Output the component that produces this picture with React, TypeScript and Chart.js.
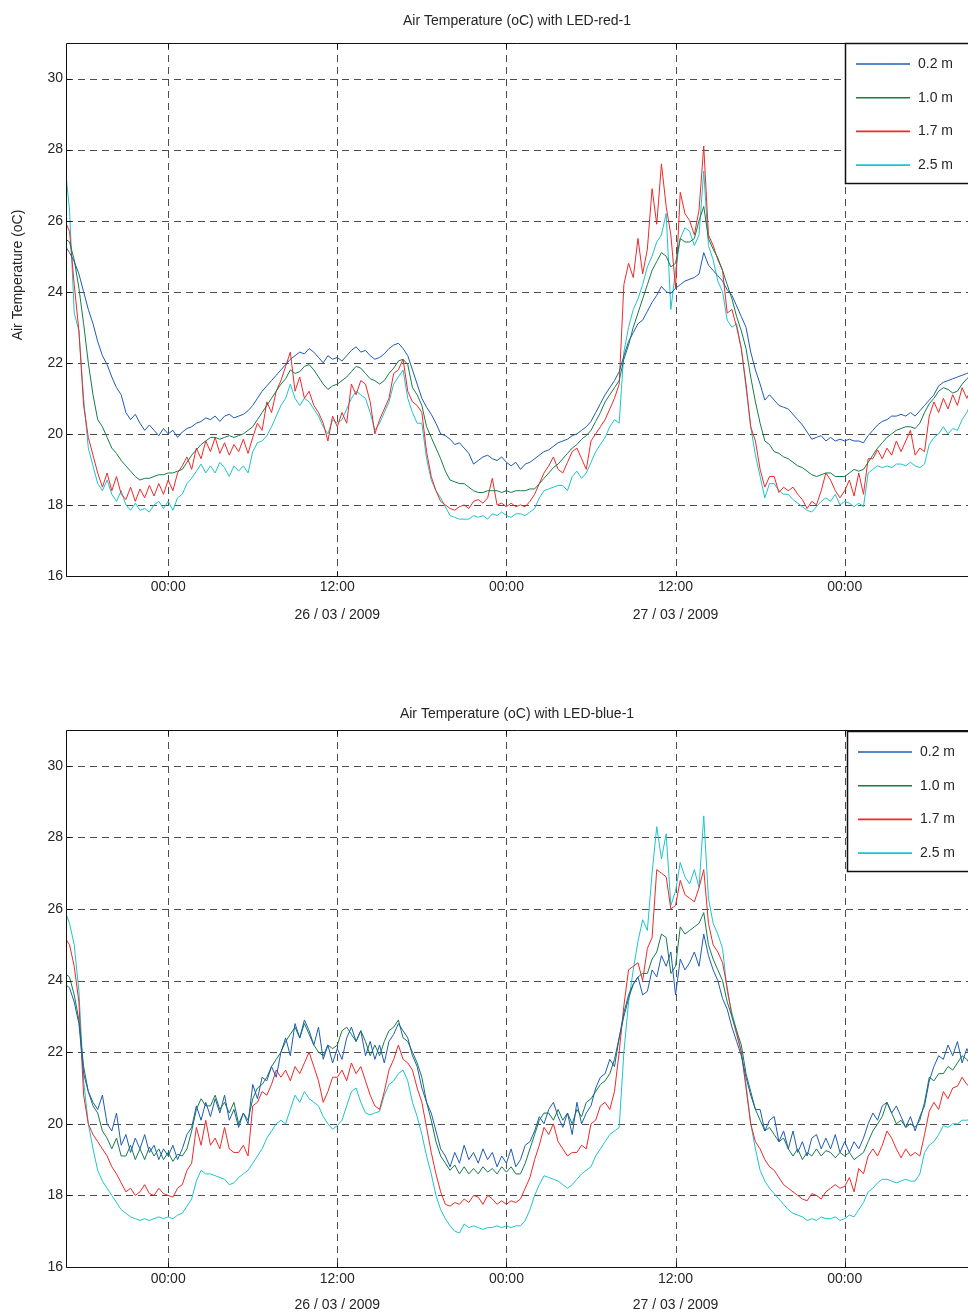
import React, { useEffect, useRef } from "react";
import { Chart, registerables } from "chart.js";

Chart.register(...registerables);

// time axis: hours relative to 26/03/2009 00:00, samples every 20 minutes
const T0 = -22 / 3;
const STEP = 1 / 3;
const X_MIN = -7.25;
const X_MAX = 56.75;
const Y_MIN = 16;
const Y_MAX = 31;
const Y_TICKS = [16, 18, 20, 22, 24, 26, 28, 30];
const X_TICKS = [0, 12, 24, 36, 48];
const X_TICK_LABELS = ["00:00", "12:00", "00:00", "12:00", "00:00"];
const DATE_LABELS = ["", "26 / 03 / 2009", "", "27 / 03 / 2009", ""];
const SERIES_NAMES = ["0.2 m", "1.0 m", "1.7 m", "2.5 m"];
const SERIES_COLORS = ["#1d5bb5", "#147d46", "#f02828", "#1cc4cc"];
const TITLES = ["Air Temperature (oC) with LED-red-1", "Air Temperature (oC) with LED-blue-1"];
const Y_TITLE = "Air Temperature (oC)";

// ---- LED-red-1 ----
const RED_02 = [25.3,
  25.1, 24.85, 24.5, 24.0, 23.5, 23.1, 22.6, 22.2, 21.95, 21.6, 21.3, 21.1,
  20.6, 20.4, 20.55, 20.3, 20.1, 20.25, 20.1, 19.95, 20.15, 20.0, 20.1, 19.9,
  20.05, 20.15, 20.2, 20.3, 20.35, 20.45, 20.4, 20.5, 20.35, 20.5, 20.55, 20.45,
  20.5, 20.55, 20.65, 20.8, 21.0, 21.2, 21.35, 21.5, 21.65, 21.8, 21.95, 22.1,
  22.2, 22.3, 22.25, 22.4, 22.3, 22.15, 22.0, 22.2, 22.1, 22.15, 22.05, 22.2,
  22.35, 22.45, 22.3, 22.35, 22.2, 22.1, 22.15, 22.25, 22.4, 22.5, 22.55, 22.4,
  22.2, 21.8, 21.4, 21.0, 20.75, 20.55, 20.3, 20.0, 19.95, 19.85, 19.7, 19.75,
  19.6, 19.45, 19.15, 19.25, 19.35, 19.4, 19.3, 19.25, 19.35, 19.2, 19.1, 19.2,
  19.0, 19.15, 19.2, 19.3, 19.4, 19.5, 19.55, 19.65, 19.75, 19.8, 19.85, 19.95,
  20.0, 20.1, 20.2, 20.35, 20.6, 20.85, 21.1, 21.3, 21.5, 21.75, 22.2, 22.6,
  22.85, 23.1, 23.2, 23.45, 23.7, 23.9, 24.15, 24.0, 23.95, 24.1, 24.2, 24.3,
  24.35, 24.4, 24.5, 25.1, 24.75, 24.6, 24.45, 24.3, 24.05, 23.9, 23.6, 23.3,
  23.0, 22.3, 21.8, 21.4, 20.95, 21.1, 20.95, 20.8, 20.75, 20.7, 20.55, 20.4,
  20.25, 20.05, 19.85, 19.9, 19.95, 19.8, 19.9, 19.8, 19.85, 19.8, 19.85, 19.8,
  19.8, 19.75, 19.95, 20.1, 20.25, 20.35, 20.4, 20.5, 20.5, 20.55, 20.5, 20.6,
  20.5, 20.65, 20.8, 20.95, 21.1, 21.35, 21.45, 21.5, 21.55, 21.6, 21.65, 21.7,
  21.75];
const RED_10 = [25.5,
  25.4, 24.9, 24.1, 23.1, 22.0, 21.1, 20.4, 20.2, 19.9, 19.6, 19.45, 19.25,
  19.1, 18.95, 18.8, 18.7, 18.75, 18.75, 18.8, 18.85, 18.85, 18.9, 18.9, 18.95,
  19.0, 19.2, 19.4, 19.55, 19.7, 19.8, 19.9, 19.9, 19.85, 19.9, 19.95, 19.9,
  19.95, 20.0, 20.1, 20.2, 20.4, 20.6, 20.8, 21.0, 21.2, 21.4, 21.55, 21.8,
  21.7, 21.75, 21.9, 21.95, 21.8, 21.6, 21.4, 21.25, 21.35, 21.4, 21.5, 21.6,
  21.75, 21.9, 21.85, 21.7, 21.55, 21.5, 21.4, 21.5, 21.7, 21.85, 22.05, 22.1,
  21.95, 21.3, 21.1, 20.8, 20.2, 19.9, 19.6, 19.3, 18.95, 18.7, 18.65, 18.6,
  18.6, 18.5, 18.4, 18.35, 18.35, 18.4, 18.4, 18.4, 18.35, 18.4, 18.35, 18.4,
  18.4, 18.4, 18.45, 18.45, 18.6, 18.75, 18.9, 19.05, 19.15, 19.3, 19.45, 19.6,
  19.7, 19.85, 19.95, 20.1, 20.35, 20.6, 20.9, 21.1, 21.3, 21.5, 22.1, 22.5,
  23.0, 23.4, 23.8, 24.2, 24.6, 24.85, 25.1, 25.0, 24.7, 24.8, 25.5, 25.4,
  25.4, 25.5, 26.0, 26.4, 25.5, 25.2, 24.95, 24.6, 24.2, 23.8, 23.3, 22.9,
  22.4, 21.6, 20.9, 20.3, 19.8, 19.7, 19.5, 19.45, 19.35, 19.3, 19.2, 19.1,
  19.05, 18.95, 18.85, 18.8, 18.85, 18.9, 18.9, 18.8, 18.8, 18.8, 18.9, 19.0,
  18.95, 19.0, 19.2, 19.4, 19.6, 19.75, 19.9, 20.0, 20.1, 20.15, 20.2, 20.2,
  20.15, 20.3, 20.6, 20.85, 21.0, 21.2, 21.3, 21.25, 21.15, 21.2, 21.4, 21.55,
  21.65];
const RED_17 = [26.0,
  25.7, 24.2, 22.9, 20.8, 19.9, 19.4, 18.9, 18.5, 18.9, 18.4, 18.8, 18.3,
  18.15, 18.5, 18.1, 18.45, 18.2, 18.55, 18.25, 18.6, 18.3, 18.7, 18.4, 18.9,
  19.1, 19.35, 19.0, 19.6, 19.3, 19.8, 19.5, 19.9, 19.45, 19.75, 19.4, 19.7,
  19.5, 19.85, 19.45, 19.9, 20.3, 20.1, 20.9, 20.6, 21.2, 21.5, 21.9, 22.3,
  21.2, 21.6, 21.0, 21.2, 20.8, 20.6, 20.3, 19.8, 20.5, 20.2, 20.6, 20.3,
  21.4, 21.1, 21.5, 21.4, 20.9, 20.0, 20.4, 20.7, 21.0, 21.7, 21.8, 22.1,
  21.2, 20.9, 20.8, 20.6, 19.5, 18.8, 18.4, 18.1, 18.0, 17.9, 17.85, 17.95,
  18.0, 17.9, 18.1, 18.15, 18.05, 18.2, 18.75, 18.0, 18.05, 17.95, 18.05, 17.95,
  18.0, 17.95, 18.1, 18.3, 18.6, 18.9, 19.1, 19.35, 19.0, 18.9, 19.2, 19.5,
  19.6, 19.3, 19.0, 19.8, 20.0, 20.2, 20.4, 20.7, 21.0, 21.4, 24.2, 24.8,
  24.4, 25.5, 24.5, 25.2, 26.9, 25.9, 27.6, 26.4, 25.6, 24.1, 26.8, 26.2,
  26.0, 25.6, 26.3, 28.1, 25.6, 25.3, 24.9, 24.6, 23.4, 23.5, 23.0, 22.4,
  21.4, 20.2, 19.8, 19.0, 18.5, 18.8, 18.8, 18.35, 18.5, 18.4, 18.5, 18.3,
  18.15, 17.9, 18.1, 18.0, 18.4, 18.9, 18.7, 18.4, 18.2, 18.4, 18.7, 18.25,
  18.9, 18.3, 19.3, 19.3, 19.55, 19.3, 19.6, 19.4, 19.8, 19.5, 19.8, 20.1,
  19.4, 19.6, 19.5, 20.5, 20.9, 20.6, 21.0, 20.7, 21.1, 20.8, 21.3, 21.0,
  21.3];
const RED_25 = [27.6,
  26.3, 23.4, 22.9, 21.0, 19.6, 19.1, 18.6, 18.4, 18.7, 18.3, 18.1, 18.4,
  18.0, 17.85, 18.05, 17.85, 17.9, 17.8, 18.0, 18.1, 17.9, 18.1, 17.85, 18.2,
  18.3, 18.6, 18.75, 18.95, 19.15, 18.9, 19.1, 18.9, 19.2, 19.05, 18.8, 19.1,
  18.95, 19.1, 18.9, 19.5, 19.75, 19.8, 19.95, 20.2, 20.5, 20.8, 21.0, 21.4,
  21.0, 20.8, 21.0, 20.9, 20.7, 20.5, 20.2, 20.0, 20.4, 20.3, 20.4, 20.7,
  21.0, 21.2, 21.1, 21.0, 20.6, 20.1, 20.3, 20.6, 20.9, 21.4, 21.6, 21.8,
  21.0, 20.6, 20.3, 20.3, 19.3, 18.7, 18.4, 18.2, 17.95, 17.7, 17.65, 17.6,
  17.6, 17.6, 17.7, 17.65, 17.7, 17.6, 17.75, 17.7, 17.8, 17.7, 17.65, 17.75,
  17.75, 17.7, 17.8, 17.9, 18.2, 18.4, 18.45, 18.5, 18.55, 18.55, 18.4, 18.8,
  18.95, 18.75, 18.9, 19.2, 19.5, 19.7, 19.9, 20.2, 20.4, 20.3, 22.3, 23.0,
  23.5, 23.8, 24.2, 24.7, 25.0, 25.4, 25.6, 26.2, 23.5, 24.6, 25.5, 25.8,
  25.7, 25.3, 25.6, 27.4, 25.3, 24.9, 24.3, 24.0, 23.2, 23.0, 23.1, 22.4,
  21.3, 20.2, 19.4, 18.8, 18.2, 18.6, 18.6, 18.4, 18.3, 18.3, 18.15, 18.05,
  17.95, 17.85, 17.8, 17.95, 18.1, 18.2, 18.1, 18.3, 18.0, 18.1, 18.05, 17.95,
  18.05, 17.95, 18.9, 19.0, 19.1, 19.05, 19.1, 19.05, 19.15, 19.15, 19.1, 19.2,
  19.1, 19.05, 19.15, 19.7, 19.9, 20.0, 20.2, 20.0, 20.15, 20.1, 20.4, 20.6,
  20.9];

// ---- LED-blue-1 ----
const BLUE_02 = [23.9,
  23.8, 23.4, 22.8, 21.4, 20.9, 20.6, 20.4, 20.8, 20.0, 19.8, 20.3, 19.4,
  19.7, 19.2, 19.6, 19.3, 19.7, 19.2, 19.4, 19.0, 19.3, 19.1, 19.4, 19.0,
  19.3, 19.7, 19.9, 20.5, 20.1, 20.6, 20.2, 20.7, 20.3, 20.8, 20.1, 20.4,
  19.9, 20.3, 20.0, 21.1, 20.7, 21.3, 21.2, 21.6, 21.3, 22.0, 22.4, 21.9,
  22.8, 22.4, 22.9, 22.6, 22.2, 22.7, 21.8, 22.2, 21.7, 22.1, 21.8, 22.4,
  22.7, 22.3, 22.6, 21.9, 22.3, 21.8, 22.2, 21.7, 22.3, 22.5, 22.8, 22.6,
  22.4, 21.9, 21.6, 21.0, 20.6, 20.3, 19.8, 19.3, 19.1, 18.8, 19.2, 18.9,
  19.4, 19.0, 19.2, 18.9, 19.3, 19.0, 19.2, 18.8, 19.1, 18.9, 19.3, 18.8,
  19.0, 19.4, 19.5, 19.8, 20.2, 20.0, 20.4, 20.6, 20.2, 19.9, 20.3, 19.7,
  20.6, 20.0, 20.3, 20.5, 21.0, 21.3, 21.4, 21.8, 21.6, 22.4, 23.1, 23.6,
  23.9, 24.1, 23.6, 23.7, 24.3, 24.1, 24.7, 24.4, 24.8, 23.6, 24.6, 24.3,
  24.5, 24.8, 24.4, 25.3, 24.7, 24.3, 24.0, 23.5, 23.2, 22.7, 22.3, 21.9,
  21.3, 20.8, 20.4, 20.4, 19.8, 20.1, 20.2, 19.5, 19.8, 19.3, 19.8, 19.2,
  19.5, 19.1, 19.6, 19.7, 19.3, 19.6, 19.3, 19.7, 19.2, 19.5, 19.2, 19.5,
  19.3, 19.6, 20.0, 20.3, 20.1, 20.5, 20.6, 20.3, 20.5, 20.2, 19.9, 20.2,
  19.8, 20.2, 20.5, 21.2, 21.6, 21.9, 21.8, 22.2, 21.9, 22.3, 21.7, 22.1,
  21.8];
const BLUE_10 = [24.2,
  24.1, 23.6, 22.9, 21.6, 20.9, 20.5, 20.3, 19.8, 19.6, 19.3, 19.6, 19.1,
  19.1, 19.4, 19.0, 19.3, 19.0, 19.35, 19.1, 19.3, 19.0, 19.2, 18.95, 19.15,
  19.1, 19.3, 19.8, 20.4, 20.7, 20.5, 20.5, 20.8, 20.4, 20.6, 20.3, 20.6,
  20.0, 20.3, 20.1, 20.7, 21.0, 21.1, 21.3, 21.6, 21.8, 22.0, 22.3, 22.5,
  22.7, 22.4, 22.8, 22.5, 22.2, 22.0, 21.9, 22.2, 22.1, 22.2, 22.6, 22.7,
  22.5, 22.3, 22.6, 22.3, 21.9, 22.2, 21.9, 22.3, 22.6, 22.7, 22.9, 22.4,
  22.3, 22.0, 21.7, 21.3, 20.6, 20.1, 19.5, 19.1, 18.9, 18.7, 18.85, 18.6,
  18.8, 18.6, 18.75, 18.6, 18.8, 18.65, 18.75, 18.6, 18.8, 18.65, 18.8, 18.6,
  18.6, 18.9, 19.3, 19.7, 20.1, 20.3, 20.3, 20.1, 20.4, 20.1, 20.3, 20.0,
  20.4, 20.2, 20.6, 20.7, 20.9, 21.1, 21.2, 21.4, 21.8, 22.4, 23.0, 23.5,
  23.9, 24.1, 24.2, 24.2, 24.6, 24.8, 25.3, 25.2, 24.2, 24.4, 25.5, 25.3,
  25.4, 25.5, 25.6, 25.9, 25.0, 24.6, 24.3, 24.0, 23.4, 23.0, 22.6, 22.2,
  21.4, 20.9, 20.4, 20.1, 19.8, 19.9, 19.7, 19.5, 19.6, 19.3, 19.1, 19.3,
  19.0, 19.2, 19.1, 19.3, 19.1, 19.25, 19.2, 19.05, 19.2, 19.1, 19.2, 19.0,
  19.1, 19.2, 19.5, 19.8, 20.0, 20.2, 20.6, 20.3, 20.0, 20.1, 19.9, 20.0,
  19.9, 20.1, 20.6, 21.3, 21.2, 21.4, 21.4, 21.6, 21.5, 21.7, 21.9, 21.8,
  21.6];
const BLUE_17 = [25.2,
  25.0, 24.4, 23.4, 20.8, 20.0, 19.7, 19.5, 19.3, 19.1, 18.8, 18.6, 18.35,
  18.1, 18.2, 18.0, 18.1, 18.3, 18.05, 18.0, 18.2, 18.05, 18.0, 17.95, 18.2,
  18.3, 18.7, 18.9, 19.9, 19.4, 20.1, 19.4, 19.6, 19.3, 19.9, 19.3, 19.2,
  19.2, 19.4, 19.1, 20.5, 20.6, 20.9, 20.8, 21.1, 21.5, 21.3, 21.5, 21.2,
  21.6, 21.4, 21.7, 22.0, 21.6, 21.2, 20.6, 20.9, 21.3, 21.3, 21.5, 21.2,
  21.7, 21.4, 21.6, 21.2, 20.8, 20.5, 20.4, 20.9, 21.5, 21.8, 22.2, 21.8,
  21.7, 21.5, 21.0, 20.6, 19.9, 19.2, 18.6, 18.1, 17.75, 17.7, 17.8, 17.75,
  17.9, 17.8, 18.0, 17.95, 17.75, 18.0, 17.9, 17.75, 17.85, 17.75, 17.85, 17.8,
  17.9, 18.2, 18.5, 19.0, 19.4, 19.9, 19.7, 20.0, 19.5, 19.3, 19.1, 19.2,
  19.2, 19.4, 19.3, 20.0, 20.1, 20.5, 20.6, 20.4, 20.9, 22.0, 23.3, 24.3,
  24.4, 24.5, 24.0, 24.9, 25.2, 27.1, 27.0, 26.9, 26.0, 26.1, 26.8, 26.4,
  26.3, 26.2, 26.6, 27.1, 25.6, 25.0, 24.8, 24.5, 23.8, 23.0, 22.5, 22.0,
  21.0, 20.0, 19.5, 19.3, 19.0, 18.8, 18.7, 18.5, 18.3, 18.2, 18.1, 18.0,
  17.9, 17.85, 18.05, 18.0, 17.9, 18.1, 18.2, 18.3, 18.2, 18.25, 18.5, 18.1,
  18.75, 18.6, 19.1, 19.3, 19.1, 19.4, 19.8, 19.6, 19.3, 19.05, 19.3, 19.1,
  19.2, 19.1, 19.7, 20.35, 20.6, 20.4, 20.9, 20.7, 21.0, 21.05, 21.3, 21.1,
  21.0];
const BLUE_25 = [25.95,
  25.6, 25.0, 23.7, 21.2, 20.0, 19.3, 18.7, 18.4, 18.2, 18.0, 17.8, 17.6,
  17.5, 17.4, 17.35, 17.3, 17.35, 17.3, 17.35, 17.4, 17.35, 17.4, 17.35, 17.45,
  17.5, 17.7, 17.9, 18.4, 18.7, 18.6, 18.6, 18.55, 18.5, 18.45, 18.3, 18.35,
  18.5, 18.6, 18.7, 18.9, 19.1, 19.3, 19.6, 19.8, 20.0, 20.1, 20.0, 20.4,
  20.8, 20.6, 20.9, 20.7, 20.6, 20.5, 20.2, 20.0, 19.85, 19.95, 20.1, 20.5,
  20.9, 21.0, 20.6, 20.3, 20.25, 20.3, 20.35, 20.8, 21.1, 21.2, 21.4, 21.5,
  21.2, 20.6, 20.2, 19.7, 19.1, 18.6, 18.0, 17.6, 17.35, 17.15, 17.0, 16.95,
  17.2, 17.1, 17.15, 17.1, 17.05, 17.1, 17.1, 17.15, 17.1, 17.15, 17.1, 17.15,
  17.15, 17.3, 17.6, 18.0, 18.3, 18.55, 18.5, 18.45, 18.4, 18.3, 18.2, 18.3,
  18.45, 18.6, 18.7, 18.8, 19.1, 19.3, 19.5, 19.7, 19.8, 19.9, 22.0, 23.4,
  24.3, 25.1, 25.7, 25.4, 27.0, 28.3, 27.4, 28.1, 26.1, 26.5, 27.3, 26.9,
  26.7, 27.1, 26.6, 28.6, 26.3, 25.6, 25.3, 24.9, 23.7, 23.1, 22.6, 22.0,
  21.1, 20.0, 19.3, 18.7, 18.4, 18.2, 18.05, 17.9, 17.75, 17.6, 17.5, 17.45,
  17.4, 17.3, 17.35, 17.3, 17.4, 17.35, 17.35, 17.4, 17.3, 17.35, 17.45, 17.4,
  17.6, 17.8, 18.1, 18.2, 18.35, 18.45, 18.45, 18.4, 18.35, 18.4, 18.45, 18.4,
  18.4, 18.6, 19.2, 19.4, 19.5, 19.7, 19.95, 19.9, 20.0, 20.0, 20.1, 20.1,
  20.15];

const FONT = "14px 'Liberation Sans', Arial, Helvetica, sans-serif";
const TEXT_COLOR = "#262626";
const GRID_COLOR = "#4d4d4d";

type PanelProps = {
  top: number;
  height: number;
  padTop: number;
  padBottom: number;
  title: string;
  titleY: number;
  labelY: number;
  dateY: number;
  showYTitle: boolean;
  legendX: number;
  legendY: number;
  legendH: number;
  series: number[][];
};

function PanelChart(p: PanelProps) {
  const ref = useRef<HTMLCanvasElement>(null);
  useEffect(() => {
    const canvas = ref.current;
    if (!canvas) return;
    const datasets = p.series.map((vals, i) => ({
      label: SERIES_NAMES[i],
      data: vals.map((v, k) => ({ x: T0 + k * STEP, y: v })),
      borderColor: SERIES_COLORS[i],
      backgroundColor: SERIES_COLORS[i],
      borderWidth: 1,
      pointRadius: 0,
      tension: 0,
      fill: false,
    }));

    const decor = {
      id: "decor",
      beforeDatasetsDraw(chart: any) {
        const { ctx, chartArea: a, scales } = chart;
        const xs = scales.x;
        const ys = scales.y;
        ctx.save();
        ctx.strokeStyle = GRID_COLOR;
        ctx.lineWidth = 1;
        ctx.setLineDash([7, 5]);
        for (const v of Y_TICKS) {
          if (v <= Y_MIN) continue;
          const py = Math.round(ys.getPixelForValue(v)) + 0.5;
          ctx.beginPath();
          ctx.moveTo(a.left, py);
          ctx.lineTo(a.right, py);
          ctx.stroke();
        }
        for (const v of X_TICKS) {
          const px = Math.round(xs.getPixelForValue(v)) + 0.5;
          ctx.beginPath();
          ctx.moveTo(px, a.top);
          ctx.lineTo(px, a.bottom);
          ctx.stroke();
        }
        ctx.restore();
      },
      afterDatasetsDraw(chart: any) {
        const { ctx, chartArea: a, scales } = chart;
        const xs = scales.x;
        const ys = scales.y;
        ctx.save();
        // frame
        ctx.setLineDash([]);
        ctx.strokeStyle = "#111";
        ctx.lineWidth = 1;
        const L = Math.round(a.left) + 0.5;
        const T = Math.round(a.top) + 0.5;
        const B = Math.round(a.bottom) + 0.5;
        ctx.beginPath();
        ctx.moveTo(a.right + 2, T);
        ctx.lineTo(L, T);
        ctx.lineTo(L, B);
        ctx.lineTo(a.right + 2, B);
        ctx.stroke();
        // inward ticks
        ctx.beginPath();
        for (const v of Y_TICKS) {
          const py = Math.round(ys.getPixelForValue(v)) + 0.5;
          ctx.moveTo(L, py);
          ctx.lineTo(L + 5, py);
        }
        for (const v of X_TICKS) {
          const px = Math.round(xs.getPixelForValue(v)) + 0.5;
          ctx.moveTo(px, T);
          ctx.lineTo(px, T + 5);
          ctx.moveTo(px, B);
          ctx.lineTo(px, B - 5);
        }
        ctx.stroke();

        // tick labels
        ctx.fillStyle = TEXT_COLOR;
        ctx.font = FONT;
        ctx.textAlign = "right";
        ctx.textBaseline = "middle";
        for (const v of Y_TICKS) {
          ctx.fillText(String(v), a.left - 3, ys.getPixelForValue(v));
        }
        ctx.textAlign = "center";
        X_TICKS.forEach((v, i) => {
          const px = xs.getPixelForValue(v);
          ctx.fillText(X_TICK_LABELS[i], px, p.labelY);
          if (DATE_LABELS[i]) ctx.fillText(DATE_LABELS[i], px, p.dateY);
        });

        // title
        ctx.fillText(p.title, (a.left + a.right) / 2, p.titleY);

        // y axis title
        if (p.showYTitle) {
          ctx.save();
          ctx.translate(18, 275);
          ctx.rotate(-Math.PI / 2);
          ctx.fillText(Y_TITLE, 0, 0);
          ctx.restore();
        }

        // legend
        const lx = p.legendX;
        const ly = p.legendY;
        ctx.fillStyle = "#ffffff";
        ctx.fillRect(lx, ly, a.right - lx + 5, p.legendH);
        ctx.strokeStyle = "#111";
        ctx.lineWidth = 1.5;
        ctx.strokeRect(lx + 0.5, ly + 0.5, a.right - lx + 10, p.legendH);
        ctx.textAlign = "left";
        SERIES_NAMES.forEach((name, i) => {
          const yy = ly + 21 + i * 33.7;
          ctx.save();
          ctx.strokeStyle = SERIES_COLORS[i];
          ctx.lineWidth = 1.6;
          ctx.beginPath();
          ctx.moveTo(lx + 11, yy);
          ctx.lineTo(lx + 65, yy);
          ctx.stroke();
          ctx.restore();
          ctx.fillStyle = TEXT_COLOR;
          ctx.fillText(name, lx + 73, yy);
        });
        ctx.restore();
      },
    };

    const chart = new Chart(canvas, {
      type: "line",
      data: { datasets },
      options: {
        animation: false,
        responsive: false,
        events: [],
        layout: { padding: { left: 66, right: 0, top: p.padTop, bottom: p.padBottom } },
        scales: {
          x: { type: "linear", min: X_MIN, max: X_MAX, display: false },
          y: { type: "linear", min: Y_MIN, max: Y_MAX, display: false },
        },
        plugins: {
          legend: { display: false },
          title: { display: false },
          tooltip: { enabled: false },
        },
      },
      plugins: [decor],
    } as any);
    return () => chart.destroy();
  }, []);
  return (
    <canvas
      ref={ref}
      width={968}
      height={p.height}
      style={{ position: "absolute", left: 0, top: p.top, width: 968, height: p.height }}
    />
  );
}

export default function App() {
  return (
    <div style={{ position: "absolute", left: 0, top: 0, width: 968, height: 1314, background: "#ffffff", overflow: "hidden" }}>
      <PanelChart
        top={0}
        height={650}
        padTop={43}
        padBottom={74}
        title={TITLES[0]}
        titleY={21}
        labelY={587}
        dateY={615}
        showYTitle={true}
        legendX={845}
        legendY={43}
        legendH={140}
        series={[RED_02, RED_10, RED_17, RED_25]}
      />
      <PanelChart
        top={650}
        height={664}
        padTop={80}
        padBottom={47}
        title={TITLES[1]}
        titleY={64}
        labelY={629}
        dateY={655}
        showYTitle={false}
        legendX={847}
        legendY={81}
        legendH={140}
        series={[BLUE_02, BLUE_10, BLUE_17, BLUE_25]}
      />
    </div>
  );
}
